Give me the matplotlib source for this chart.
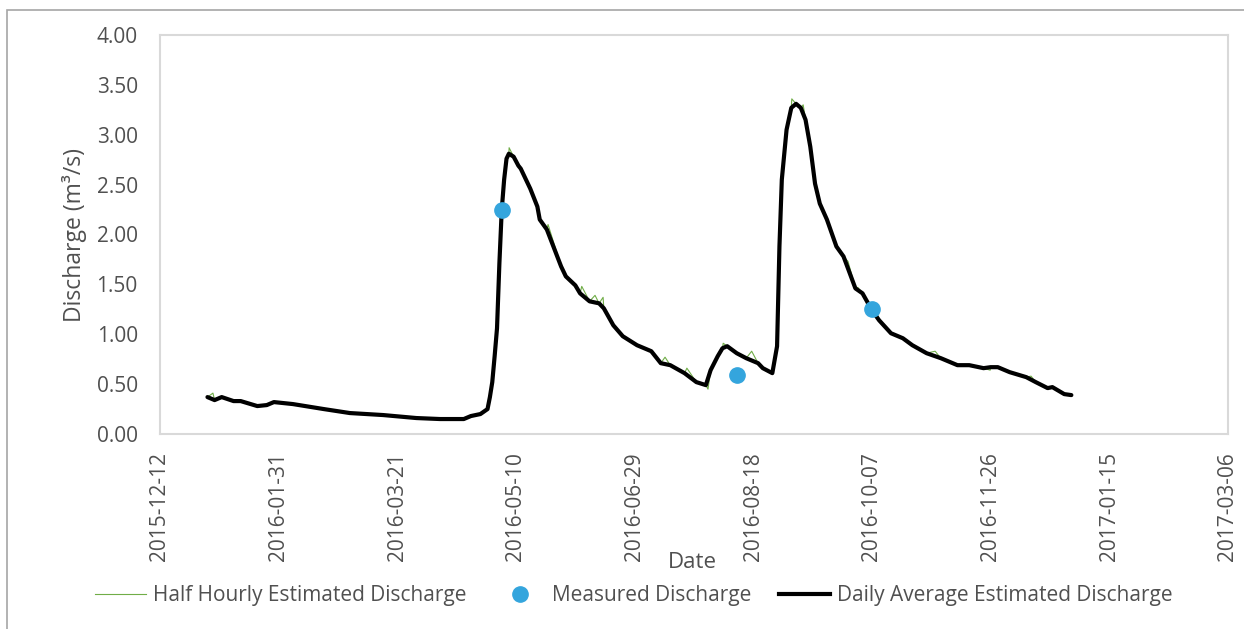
import numpy as np
import pandas as pd
import matplotlib
matplotlib.use("Agg")
import matplotlib.pyplot as plt
from matplotlib.lines import Line2D
from matplotlib.patches import Rectangle

plt.rcParams["font.family"] = ["Open Sans", "DejaVu Sans"]

START = pd.Timestamp("2016-01-01")

# Daily average estimated discharge (days since 2016-01-01, m3/s)
daily_days = [0, 3, 6, 11, 14, 21, 25, 28, 36, 49, 60, 74, 88, 98, 108, 111, 115, 118,
              119, 120, 121, 122, 123, 124, 125, 126, 127, 129, 131, 132, 136, 139, 140,
              143, 149, 151, 155, 157, 161, 165, 167, 171, 175, 181, 187, 191, 195, 201,
              206, 210, 212, 215, 217, 219, 223, 227, 232, 234, 238, 240, 241, 242, 244,
              246, 248, 250, 252, 254, 256, 258, 261, 265, 268, 273, 276, 280, 283, 288,
              293, 297, 303, 309, 316, 321, 327, 330, 333, 338, 345, 349, 354, 356, 361, 364]
daily_vals = [0.37, 0.34, 0.37, 0.33, 0.33, 0.28, 0.29, 0.32, 0.30, 0.25, 0.21, 0.19, 0.16,
              0.15, 0.15, 0.18, 0.20, 0.25, 0.37, 0.52, 0.78, 1.06, 1.71, 2.25, 2.55, 2.76,
              2.81, 2.78, 2.69, 2.66, 2.46, 2.28, 2.15, 2.05, 1.68, 1.58, 1.49, 1.41, 1.33,
              1.31, 1.26, 1.09, 0.98, 0.89, 0.83, 0.71, 0.69, 0.61, 0.52, 0.49, 0.64, 0.78,
              0.86, 0.88, 0.81, 0.76, 0.71, 0.66, 0.61, 0.88, 1.88, 2.55, 3.05, 3.27, 3.31,
              3.27, 3.15, 2.88, 2.51, 2.31, 2.15, 1.88, 1.78, 1.46, 1.41, 1.24, 1.14, 1.01,
              0.96, 0.89, 0.81, 0.76, 0.69, 0.69, 0.66, 0.67, 0.67, 0.62, 0.57, 0.52, 0.46,
              0.47, 0.40, 0.39]

# Half-hourly readings that stand out from the daily mean
spike_days = [2.3, 127.1, 143.5, 157.7, 163.3, 166.7, 192.8, 202.0, 210.9, 217.3, 229.3,
              246.2, 251.0, 269.9, 274.0, 281.0, 306.6, 329.8, 347.0]
spike_vals = [0.41, 2.87, 2.10, 1.48, 1.39, 1.37, 0.77, 0.66, 0.45, 0.91, 0.83,
              3.36, 3.30, 1.73, 1.47, 1.30, 0.83, 0.64, 0.58]

# Field-measured discharge
measured_dates = ["2016-05-04", "2016-08-11", "2016-10-07"]
measured_vals = [2.25, 0.59, 1.25]

x_tick_labels = ["2015-12-12", "2016-01-31", "2016-03-21", "2016-05-10", "2016-06-29",
                 "2016-08-18", "2016-10-07", "2016-11-26", "2017-01-15", "2017-03-06"]
y_ticks = [0.0, 0.5, 1.0, 1.5, 2.0, 2.5, 3.0, 3.5, 4.0]

TEXT = "#505050"
GREEN = "#70AD47"
BLUE = "#34A5DD"

daily_t = START + pd.to_timedelta(daily_days, unit="D")
hh_days = np.concatenate([daily_days, spike_days])
hh_vals = np.concatenate([daily_vals, spike_vals])
order = np.argsort(hh_days)
hh_t = START + pd.to_timedelta(hh_days[order], unit="D")
hh_v = hh_vals[order]
meas_t = pd.to_datetime(measured_dates)

fig = plt.figure(figsize=(12.44, 6.29), dpi=100)
fig.patches.append(Rectangle((7 / 1244, -0.02), 1.05, 1 - 10 / 629 + 0.02,
                             transform=fig.transFigure, fill=False,
                             edgecolor="#A6A6A6", linewidth=1.2))

ax = fig.add_axes([160 / 1244, 1 - 434 / 629, 1068 / 1244, 399 / 629])

ax.plot(hh_t, hh_v, color=GREEN, linewidth=0.8, zorder=2,
        label="Half Hourly Estimated Discharge")
ax.plot(meas_t, measured_vals, linestyle="none", marker="o", markersize=11,
        color=BLUE, zorder=4, label="Measured Discharge")
ax.plot(daily_t, daily_vals, color="black", linewidth=3.0, zorder=3,
        solid_joinstyle="round", solid_capstyle="round",
        label="Daily Average Estimated Discharge")

xt = pd.to_datetime(x_tick_labels)
ax.set_xlim(xt[0], xt[-1])
ax.set_xticks(xt)
ax.set_xticklabels(x_tick_labels, rotation=90, fontsize=15, color=TEXT)
ax.set_ylim(0, 4)
ax.set_yticks(y_ticks)
ax.set_yticklabels([f"{v:.2f}" for v in y_ticks], fontsize=15, color=TEXT)
ax.tick_params(length=0)
ax.tick_params(axis="y", pad=16)
ax.tick_params(axis="x", pad=13)

for s in ax.spines.values():
    s.set_color("#D9D9D9")
    s.set_linewidth(1.5)

ax.set_ylabel("Discharge (m³/s)", fontsize=16.5, color=TEXT, labelpad=7)
fig.text(692 / 1244, 1 - 563 / 629, "Date", fontsize=16, color=TEXT,
         ha="center", va="center")

handles = [Line2D([], [], color=GREEN, linewidth=0.8),
           Line2D([], [], linestyle="none", marker="o", markersize=11, color=BLUE),
           Line2D([], [], color="black", linewidth=3.0)]
labels = ["Half Hourly Estimated Discharge", "Measured Discharge",
          "Daily Average Estimated Discharge"]
fig.legend(handles, labels, loc="center", bbox_to_anchor=(634 / 1244, 1 - 596 / 629),
           ncol=3, frameon=False, fontsize=15, labelcolor=TEXT,
           handlelength=2.45, handletextpad=0.35, columnspacing=1.3,
           borderpad=0, borderaxespad=0)

fig.savefig("out.png", dpi=100, facecolor="white")
